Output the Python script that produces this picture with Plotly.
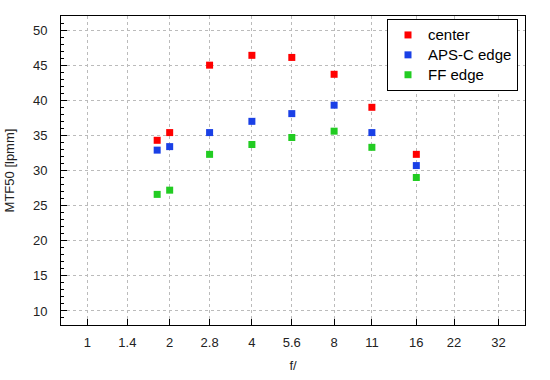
import math
import plotly.graph_objects as go

apertures = [1.8, 2, 2.8, 4, 5.6, 8, 11, 16]
center = [34.3, 35.4, 45.0, 46.4, 46.1, 43.7, 39.0, 32.3]
apsc_edge = [32.9, 33.4, 35.4, 37.0, 38.1, 39.3, 35.4, 30.7]
ff_edge = [26.6, 27.2, 32.3, 33.7, 34.7, 35.6, 33.3, 29.0]

x_tick_vals = [1, 1.4, 2, 2.8, 4, 5.6, 8, 11, 16, 22, 32]
x_tick_text = ["1", "1.4", "2", "2.8", "4", "5.6", "8", "11", "16", "22", "32"]

series = [
    ("center", center, "#ff0000"),
    ("APS-C edge", apsc_edge, "#1a40e6"),
    ("FF edge", ff_edge, "#22cc22"),
]

fig = go.Figure()
for name, vals, col in series:
    fig.add_trace(go.Scatter(
        x=apertures, y=vals, mode="markers",
        name="<span style='font-size:15px'>" + name + "</span>",
        marker=dict(symbol="square", size=7, color=col, line=dict(width=0)),
    ))

font_family = "Liberation Sans, Arial, sans-serif"
fig.update_layout(
    width=550, height=380,
    margin=dict(l=61, r=25, t=16, b=55, autoexpand=False),
    paper_bgcolor="white", plot_bgcolor="white",
    font=dict(family=font_family, size=13, color="#222222"),
    showlegend=True,
    legend=dict(
        x=(518 - 61) / 464, y=1 - (19 - 16) / 309, xanchor="right", yanchor="top",
        bgcolor="white", bordercolor="black", borderwidth=1,
        font=dict(size=13, color="black"),
        itemwidth=30, tracegroupgap=0,
    ),
)
fig.update_xaxes(
    type="log", automargin=False,
    range=[math.log10(0.8), math.log10(40)],
    tickvals=x_tick_vals, ticktext=x_tick_text,
    ticks="inside", ticklen=6, tickcolor="black",
    showline=True, linecolor="black", linewidth=1, mirror=True,
    showgrid=True, gridcolor="#bbbbbb", griddash="3px,3px", gridwidth=1,
    zeroline=False,
    ticklabelstandoff=5,
    title=dict(text="f/", standoff=12, font=dict(size=13, color="#222222")),
)
fig.update_yaxes(
    automargin=False,
    range=[8, 52],
    tickvals=[10, 15, 20, 25, 30, 35, 40, 45, 50],
    ticks="inside", ticklen=6, tickcolor="black",
    minor=dict(dtick=1, ticks="inside", ticklen=3, tickcolor="black", showgrid=False),
    showline=True, linecolor="black", linewidth=1, mirror=True,
    showgrid=True, gridcolor="#bbbbbb", griddash="3px,3px", gridwidth=1,
    zeroline=False,
    ticklabelstandoff=10,
    title=dict(text="MTF50 [lpmm]", standoff=15, font=dict(size=13, color="#222222")),
)

fig.write_html("out.html", post_script="document.body.style.margin='0';",
               config={"displayModeBar": False})
